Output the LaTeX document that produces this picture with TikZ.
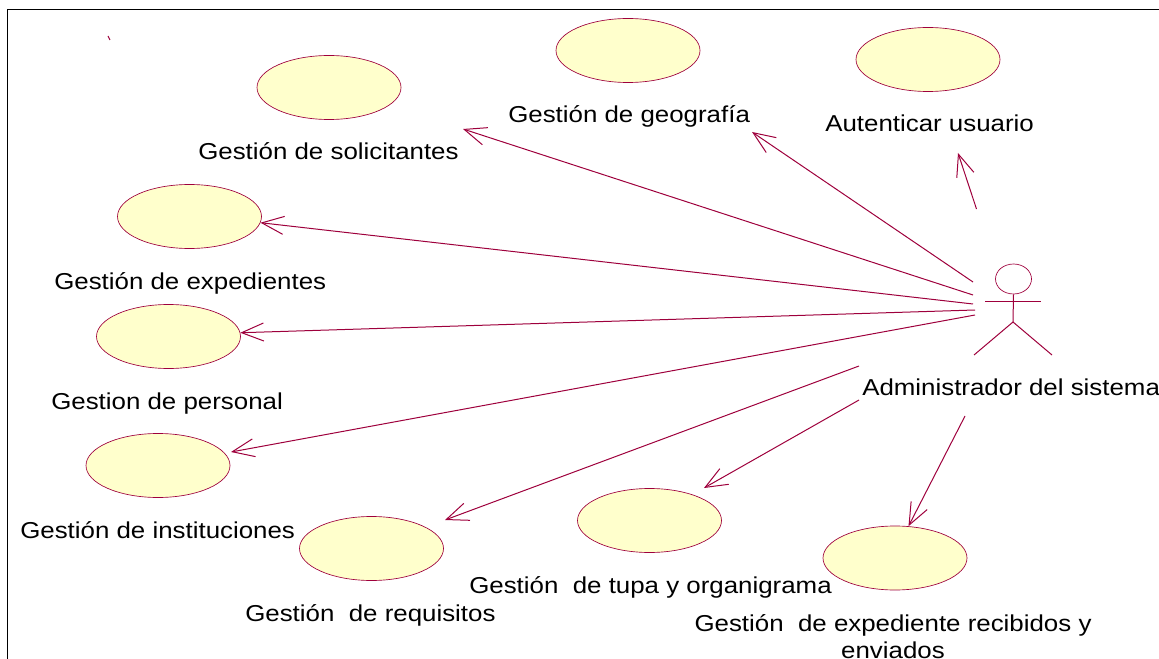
\documentclass[tikz,border=0pt]{standalone}
\usepackage{fontspec}
\setmainfont[FakeStretch=1.125]{Liberation Sans}
\usetikzlibrary{arrows.meta}
\usetikzlibrary{shapes.geometric}

\tikzset{
  usecase/.style={draw=umlred,fill=umlfill,ellipse,line width=0.5pt,inner sep=0pt,minimum width=108pt,minimum height=48pt},
  usetext/.style={anchor=base west,inner sep=0pt,text=black,font=\fontsize{17.25}{20.25}\selectfont},
  assoc/.style={draw=umlred,line width=0.75pt,-{Straight Barb[length=16.5pt,width=13.5pt,line width=0.75pt]}}
}
\definecolor{umlred}{RGB}{158,0,60}
\definecolor{umlfill}{RGB}{255,255,204}

\begin{document}
\begin{tikzpicture}[x=0.75pt,y=0.75pt,yscale=-1,xscale=1]
\useasboundingbox (0,0) rectangle (1159,659);

%Frame
\draw [line width=0.75pt] (7.5,659) -- (7.5,10) -- (1159,10) ;
%Straight Lines
\draw [umlred,line width=0.75pt] (108,36) -- (110,40) ;

%Shape: Ellipse
\node (solicitantes) [usecase] at (329,87.5) {};
\node (geografia) [usecase] at (628,50.5) {};
\node (autenticar) [usecase] at (928,59.5) {};
\node (expedientes) [usecase] at (189.5,216.5) {};
\node (personal) [usecase] at (168.5,336.5) {};
\node (instituciones) [usecase] at (158,465.5) {};
\node (requisitos) [usecase] at (371.5,548.5) {};
\node (tupa) [usecase] at (649.5,520.5) {};
\node (recibidos) [usecase] at (895,558) {};

% Text Node
\node (lblsolicitantes) [usetext] at (198,160) {Gestión de solicitantes};
\node (lblgeografia) [usetext] at (508,123) {Gestión de geografía};
\node (lblautenticar) [usetext] at (825,132) {Autenticar usuario};
\node (lblexpedientes) [usetext] at (54,289) {Gestión de expedientes};
\node (lblpersonal) [usetext] at (51,409) {Gestion de personal};
\node (lblinstituciones) [usetext] at (20,538) {Gestión de instituciones};
\node (lblrequisitos) [usetext] at (245,621) {Gestión~ de requisitos};
\node (lbltupa) [usetext] at (469,593) {Gestión~ de tupa y organigrama};
\node (lblrecibidos) [usetext,anchor=north,align=center] at (893,614) {Gestión~ de expediente recibidos y\\enviados};
\node (lbladmin) [usetext] at (862,395) {Administrador del sistema};

%Shape: Actor
\node (actorhead) [draw=umlred,ellipse,line width=0.5pt,inner sep=0pt,minimum width=27pt,minimum height=22.5pt] at (1013.5,279) {};
\coordinate (actorhip) at (1013,322);
\coordinate (armleft) at (985,301.5);
\coordinate (armright) at (1041,301.5);
\coordinate (footleft) at (974,355);
\coordinate (footright) at (1052,355);
\draw [umlred,line width=0.75pt] (actorhead.south) -- (actorhip) ;
\draw [umlred,line width=0.75pt] (armleft) -- (armright) ;
\draw [umlred,line width=0.75pt] (footleft) -- (actorhip) -- (footright) ;

%Free ends near the actor and near the labels
\coordinate (fromautenticar) at (976.5,209);
\coordinate (fromgeografia) at (973,282);
\coordinate (fromsolicitantes) at (973,295);
\coordinate (fromexpedientes) at (973,304);
\coordinate (frompersonal) at (975,310);
\coordinate (frominstituciones) at (975,315);
\coordinate (fromrequisitos) at (859,366);
\coordinate (fromtupa) at (859,400);
\coordinate (fromrecibidos) at (965,416);
\coordinate (toautenticar) at (958,153);
\coordinate (togeografia) at (752,132);
\coordinate (tosolicitantes) at (463,129);
\coordinate (toinstituciones) at (231,452);
\coordinate (torequisitos) at (445,520);
\coordinate (totupa) at (704,488);

%Straight Lines
\draw [assoc] (fromautenticar) -- (toautenticar) ;
\draw [assoc] (fromgeografia) -- (togeografia) ;
\draw [assoc] (fromsolicitantes) -- (tosolicitantes) ;
\draw [assoc] (fromexpedientes) -- (expedientes.-5) ;
\draw [assoc] (frompersonal) -- (personal.3) ;
\draw [assoc] (frominstituciones) -- (toinstituciones) ;
\draw [assoc] (fromrequisitos) -- (torequisitos) ;
\draw [assoc] (fromtupa) -- (totupa) ;
\draw [assoc] (fromrecibidos) -- (recibidos.67) ;

\end{tikzpicture}
\end{document}
